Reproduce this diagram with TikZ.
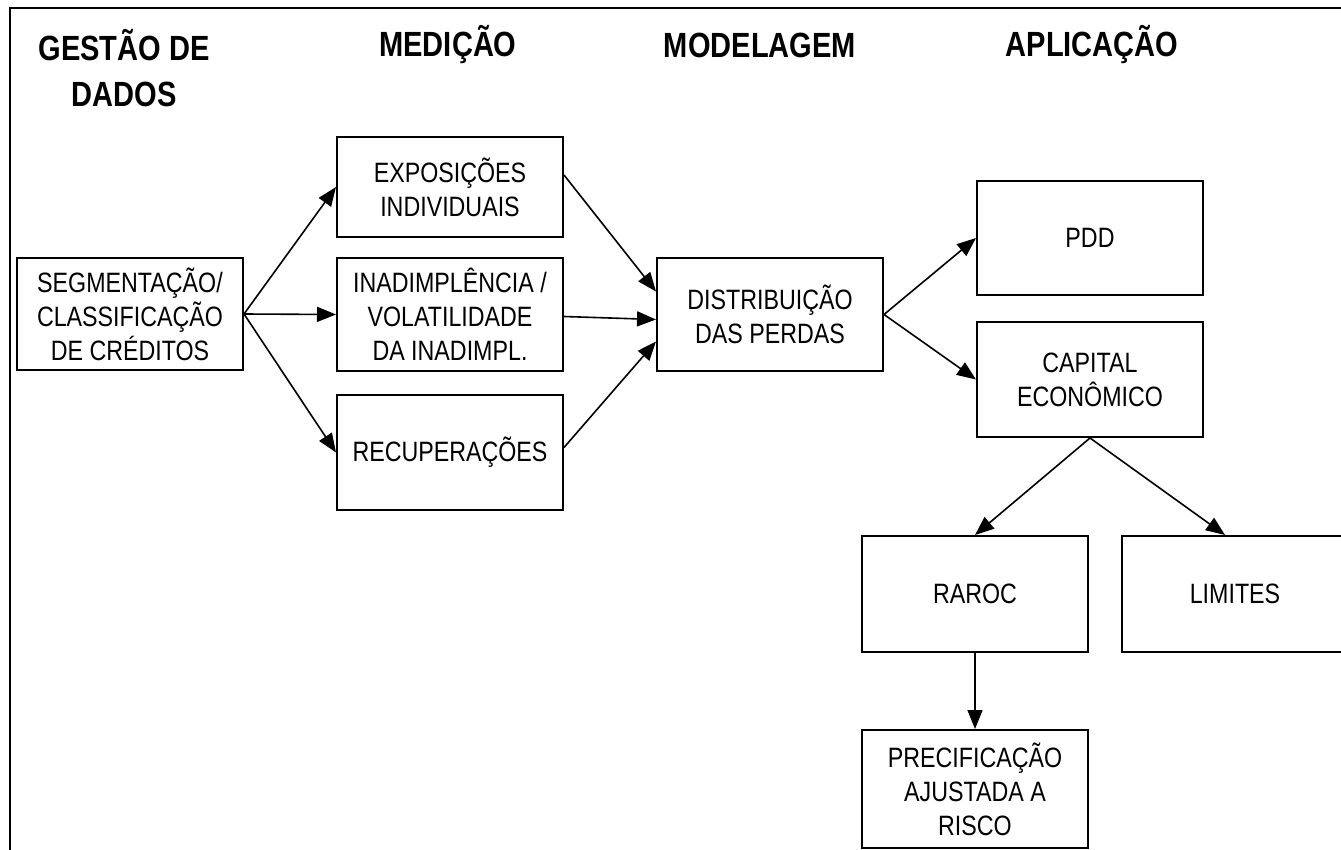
\documentclass[tikz,border=0pt]{standalone}
\usepackage{fontspec}
\setmainfont{Liberation Sans}[FakeStretch=0.83]
\usepackage{tikz}
\usetikzlibrary{arrows.meta, positioning, calc}
\tikzset{%
	box/.style={draw, line width=2pt, rectangle, minimum width=226pt, inner sep=0pt,%
		align=center, font=\fontsize{28}{34}\selectfont},
	head/.style={align=center, font=\bfseries\fontsize{35}{46}\selectfont},
	flow/.style={-{Triangle[length=19pt,width=15pt]}, line width=1.6pt},
	frame/.style={line width=2.6pt}
}

\begin{document}
\begin{tikzpicture}[x=1pt, y=-1pt]
  \useasboundingbox (0,0) rectangle (1341,850);
  \draw[frame] (1341,8) -- (10,8) -- (10,850);

  % column titles
  \node[head] (hdados) at (124,68) {GESTÃO DE\\DADOS};
  \node[head] (hmed) at (448,45) {MEDIÇÃO};
  \node[head] (hmod) at (760,45) {MODELAGEM};
  \node[head] (hapl) at (1092,45) {APLICAÇÃO};

  \node[box, minimum height=112pt] (seg) at (130,314) {SEGMENTAÇÃO/\\CLASSIFICAÇÃO\\DE CRÉDITOS};
  \node[box, minimum height=100pt] (expo) at (450,187) {EXPOSIÇÕES\\INDIVIDUAIS};
  \node[box, minimum height=112pt] (inad) at (450,314.5) {INADIMPLÊNCIA /\\VOLATILIDADE\\DA INADIMPL.};
  \node[box, minimum height=115pt] (recup) at (450,452.5) {RECUPERAÇÕES};
  \node[box, minimum height=112pt] (dist) at (770,314.5) {DISTRIBUIÇÃO\\DAS PERDAS};
  \node[box, minimum height=114pt] (pdd) at (1090,238) {PDD};
  \node[box, minimum height=115pt] (capital) at (1090,379.5) {CAPITAL\\ECONÔMICO};
  \node[box, minimum height=116pt] (raroc) at (975,594) {RAROC};
  \node[box, minimum height=116pt] (limites) at (1235,594) {LIMITES};
  \node[box, minimum height=118pt] (precif) at (975,789) {PRECIFICAÇÃO\\AJUSTADA A\\RISCO};

  \draw[flow] (seg.east) -- (expo.west);
  \draw[flow] (seg.east) -- (inad.west);
  \draw[flow] (seg.east) -- (recup.west);

  \draw[flow] ([yshift=12pt]expo.east) -- ([yshift=23pt]dist.west);
  \draw[flow] ([yshift=-2pt]inad.east) -- ([yshift=-5pt]dist.west);
  \draw[flow] ([yshift=5pt]recup.east) -- ([yshift=-27pt]dist.west);

  \draw[flow] (dist.east) -- (pdd.west);
  \draw[flow] (dist.east) -- (capital.west);

  \draw[flow] (capital.south) -- (raroc.north);
  \draw[flow] (capital.south) -- ([xshift=-10pt]limites.north);
  \draw[flow] (raroc.south) -- (precif.north);
\end{tikzpicture}
\end{document}
